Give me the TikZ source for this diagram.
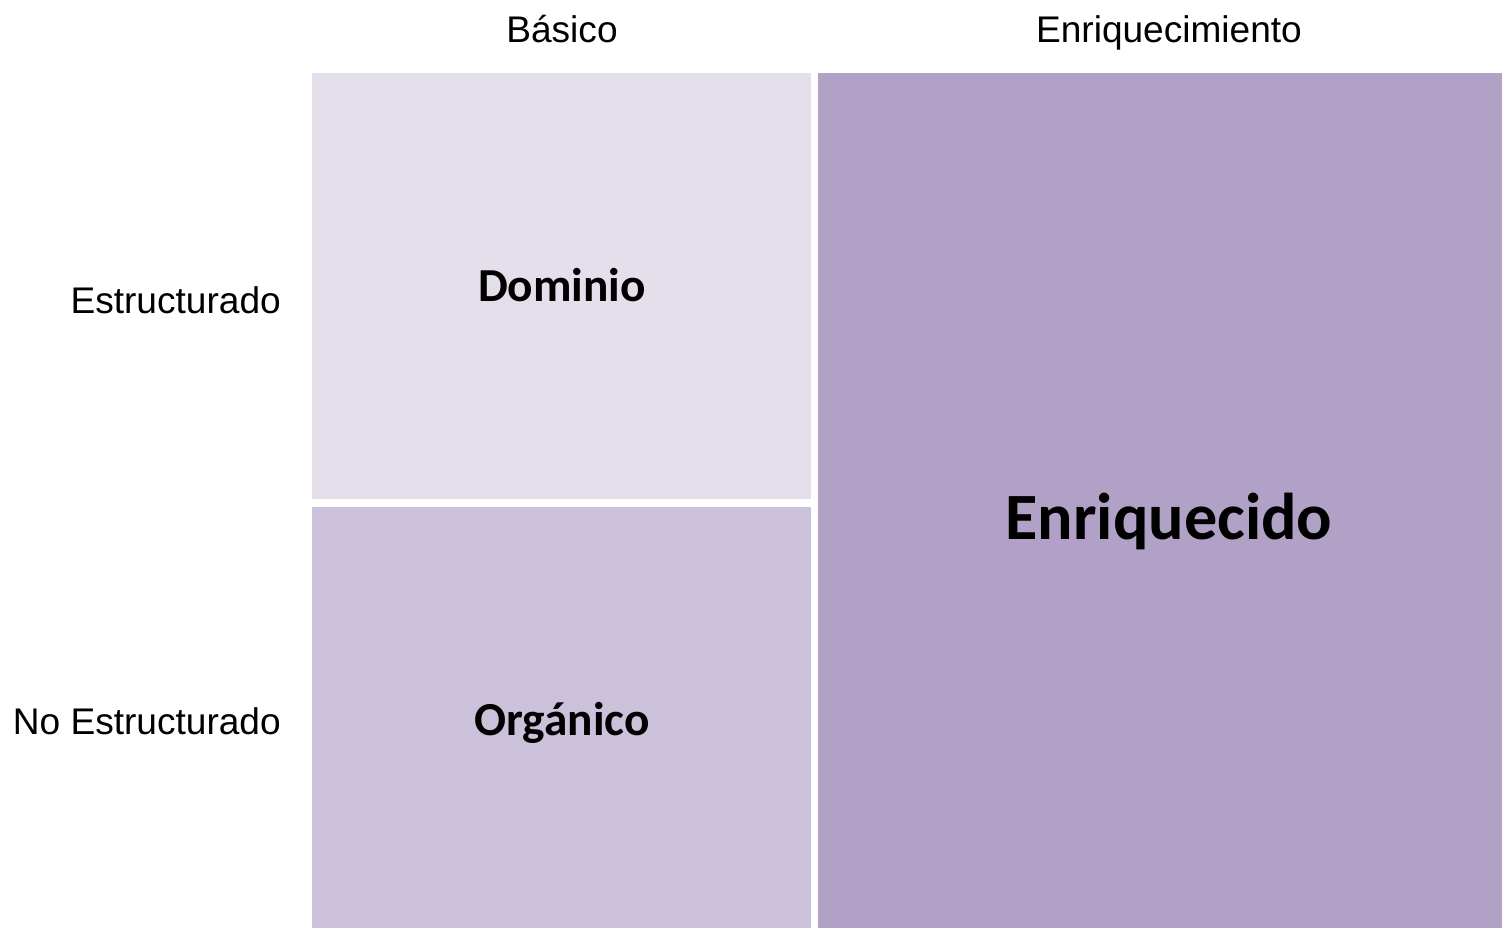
\documentclass[tikz,border=0pt]{standalone}
\usepackage{fontspec}
\setmainfont{Liberation Sans}
\newfontfamily\cellfont{Carlito}
\usetikzlibrary{fit}
\definecolor{lavlight}{HTML}{E5DFEC}
\definecolor{lavmid}{HTML}{CCC1DA}
\definecolor{lavdark}{HTML}{B2A1C7}

\begin{document}
\begin{tikzpicture}[x=0.75pt,y=-0.75pt,
		cell/.style={inner sep=0pt, outer sep=0pt, draw=none},
		axislabel/.style={font=\fontsize{27.8}{33}\selectfont, inner sep=0pt},
		celllabel/.style={font=\fontsize{35.5}{42}\selectfont\cellfont\bfseries, inner sep=0pt}]
		\useasboundingbox (0,0) rectangle (1502,928);
		% cells
		\node[cell, fill=lavlight, fit={(312,73) (811,499)}] (dominio) {};
		\node[cell, fill=lavmid, fit={(312,507) (811,928)}] (organico) {};
		\node[cell, fill=lavdark, fit={(818,73) (1502,928)}] (enriquecido) {};
		% column and row labels
		\node[axislabel, anchor=base] (basico) at (562,42) {Básico};
		\node[axislabel, anchor=base] (enriquecimiento) at (1169,42) {Enriquecimiento};
		\node[axislabel, anchor=base east] (estructurado) at (281,313) {Estructurado};
		\node[axislabel, anchor=base east] (noestructurado) at (281,734) {No Estructurado};
		% cell texts
		\node[celllabel, anchor=base] (dominiotxt) at (562,301) {Dominio};
		\node[celllabel, anchor=base] (organicotxt) at (562,735) {Orgánico};
		\node[celllabel, anchor=base, font=\fontsize{49.6}{58}\selectfont\cellfont\bfseries] (enriquecidotxt) at (1169,539) {Enriquecido};
	\end{tikzpicture}
\end{document}
